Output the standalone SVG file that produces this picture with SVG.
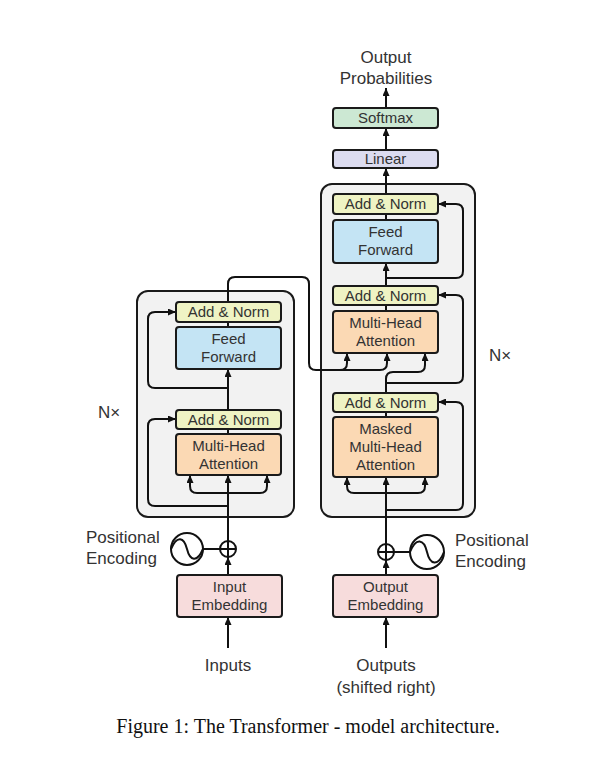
<svg xmlns="http://www.w3.org/2000/svg" width="600" height="769" viewBox="0 0 600 769">
<defs>
<marker id="ah" viewBox="0 0 8 7" refX="8" refY="3.5" markerWidth="8" markerHeight="7" markerUnits="userSpaceOnUse" orient="auto">
<path d="M0,0 L8,3.5 L0,7 z" fill="#111"/>
</marker>
<style>
.frame{fill:#f2f2f2;stroke:#1a1a1a;stroke-width:2}
.box{stroke:#1a1a1a;stroke-width:2}
.an{fill:#eff3c4}
.ff{fill:#c4e4f4}
.mha{fill:#fbd9b4}
.emb{fill:#f7dcdc}
.lin{fill:#dcdcf0}
.sm{fill:#cce8d3}
.t{font-family:"Liberation Sans",Arial,sans-serif;font-size:15px;fill:#333;text-anchor:middle}
.lbl{font-family:"Liberation Sans",Arial,sans-serif;font-size:17px;fill:#333}
.c{fill:none;stroke:#111;stroke-width:2}
.a{fill:none;stroke:#111;stroke-width:2;marker-end:url(#ah)}
.cap{font-family:"Liberation Serif","Times New Roman",serif;font-size:20px;fill:#111;text-anchor:middle}
</style>
</defs>
<rect width="600" height="769" fill="#ffffff"/>

<g id="encoder-frame"><rect class="frame" x="137" y="291" width="157" height="226" rx="11"/></g>
<g id="decoder-frame"><rect class="frame" x="321" y="184" width="154" height="333" rx="11"/></g>

<g id="connectors">
<!-- encoder -->
<path class="a" d="M228,648 V617"/>
<path class="a" d="M228,575 V557"/>
<path class="a" d="M228,541 V475"/>
<path class="a" d="M228,493 H197 Q190,493 190,486 V475"/>
<path class="a" d="M228,493 H260 Q267,493 267,486 V475"/>
<path class="c" d="M228,434 V429"/>
<path class="a" d="M228,410 V369"/>
<path class="c" d="M228,327 V322"/>
<path class="a" d="M228,506 H155 Q148,506 148,499 V426 Q148,419 155,419 H176"/>
<path class="a" d="M228,388 H155 Q148,388 148,381 V319 Q148,312 155,312 H176"/>
<path class="c" d="M203,549 H220"/>
<!-- encoder to decoder -->
<path class="a" d="M228,302 V284 Q228,277 235,277 H302 Q309,277 309,284 V363 Q309,370 316,370 H340 Q347,370 347,363 V353"/>
<path class="a" d="M340,370 H380 Q387,370 387,363 V353"/>
<!-- decoder -->
<path class="a" d="M386,648 V617"/>
<path class="a" d="M386,575 V560"/>
<path class="a" d="M386,544 V477"/>
<path class="a" d="M386,493 H354 Q347,493 347,486 V477"/>
<path class="a" d="M386,493 H418 Q425,493 425,486 V477"/>
<path class="c" d="M386,417 V412"/>
<path class="a" d="M386,510 H456 Q463,510 463,503 V409 Q463,402 456,402 H438"/>
<path class="a" d="M386,393 V379 Q386,372 393,372 H418 Q425,372 425,365 V353"/>
<path class="a" d="M386,383 H456 Q463,383 463,376 V302 Q463,295 456,295 H438"/>
<path class="c" d="M386,311 V305"/>
<path class="a" d="M386,286 V263"/>
<path class="a" d="M386,278 H456 Q463,278 463,271 V211 Q463,204 456,204 H438"/>
<path class="c" d="M386,220 V214"/>
<path class="a" d="M386,194 V168"/>
<path class="a" d="M386,150 V128"/>
<path class="a" d="M386,108 V88"/>
<path class="c" d="M394,552 H410"/>
</g>

<g id="enc-addnorm2"><rect class="box an" x="176" y="302" width="105" height="20" rx="3"/><text class="t" x="228.5" y="317">Add &amp; Norm</text></g>
<g id="enc-ff"><rect class="box ff" x="176" y="327" width="105" height="42" rx="3"/><text class="t" x="228.5" y="344">Feed</text><text class="t" x="228.5" y="362">Forward</text></g>
<g id="enc-addnorm1"><rect class="box an" x="176" y="410" width="105" height="19" rx="3"/><text class="t" x="228.5" y="425">Add &amp; Norm</text></g>
<g id="enc-mha"><rect class="box mha" x="176" y="434" width="105" height="41" rx="3"/><text class="t" x="228.5" y="451">Multi-Head</text><text class="t" x="228.5" y="469">Attention</text></g>
<g id="enc-pe"><circle cx="187" cy="549" r="16" fill="#fff" stroke="#111" stroke-width="2"/><path class="c" d="M171,549 C177,535 184,537 187,549 S197,563 203,549" stroke-width="1.5"/></g>
<g id="enc-add"><circle cx="228" cy="549" r="8" fill="#fff" stroke="#111" stroke-width="2"/><path class="c" d="M220,549 H236 M228,541 V557" stroke-width="1.5"/></g>
<g id="enc-emb"><rect class="box emb" x="177" y="575" width="105" height="42" rx="3"/><text class="t" x="229.5" y="592">Input</text><text class="t" x="229.5" y="610">Embedding</text></g>

<g id="dec-addnorm3"><rect class="box an" x="333" y="194" width="105" height="20" rx="3"/><text class="t" x="385.5" y="209">Add &amp; Norm</text></g>
<g id="dec-ff"><rect class="box ff" x="333" y="220" width="105" height="43" rx="3"/><text class="t" x="385.5" y="237">Feed</text><text class="t" x="385.5" y="255">Forward</text></g>
<g id="dec-addnorm2"><rect class="box an" x="333" y="286" width="105" height="19" rx="3"/><text class="t" x="385.5" y="301">Add &amp; Norm</text></g>
<g id="dec-mha"><rect class="box mha" x="333" y="311" width="105" height="42" rx="3"/><text class="t" x="385.5" y="328">Multi-Head</text><text class="t" x="385.5" y="346">Attention</text></g>
<g id="dec-addnorm1"><rect class="box an" x="333" y="393" width="105" height="19" rx="3"/><text class="t" x="385.5" y="408">Add &amp; Norm</text></g>
<g id="dec-mmha"><rect class="box mha" x="333" y="417" width="105" height="60" rx="3"/><text class="t" x="385.5" y="434">Masked</text><text class="t" x="385.5" y="452">Multi-Head</text><text class="t" x="385.5" y="470">Attention</text></g>
<g id="dec-add"><circle cx="386" cy="552" r="8" fill="#fff" stroke="#111" stroke-width="2"/><path class="c" d="M378,552 H394 M386,544 V560" stroke-width="1.5"/></g>
<g id="dec-pe"><circle cx="427" cy="552" r="17" fill="#fff" stroke="#111" stroke-width="2"/><path class="c" d="M410,552 C416,537 424,539 427,552 S438,567 444,552" stroke-width="1.5"/></g>
<g id="dec-emb"><rect class="box emb" x="333" y="575" width="105" height="42" rx="3"/><text class="t" x="385.5" y="592">Output</text><text class="t" x="385.5" y="610">Embedding</text></g>

<g id="linear"><rect class="box lin" x="333" y="150" width="105" height="18" rx="3"/><text class="t" x="385.5" y="164">Linear</text></g>
<g id="softmax"><rect class="box sm" x="333" y="108" width="105" height="20" rx="3"/><text class="t" x="385.5" y="123">Softmax</text></g>

<g id="labels">
<text class="lbl" x="386" y="63" text-anchor="middle">Output</text>
<text class="lbl" x="386" y="84" text-anchor="middle">Probabilities</text>
<text class="lbl" x="86" y="543">Positional</text>
<text class="lbl" x="86" y="564">Encoding</text>
<text class="lbl" x="455" y="546">Positional</text>
<text class="lbl" x="455" y="567">Encoding</text>
<text class="lbl" x="98" y="418">N×</text>
<text class="lbl" x="489" y="361">N×</text>
<text class="lbl" x="228" y="671" text-anchor="middle">Inputs</text>
<text class="lbl" x="386" y="671" text-anchor="middle">Outputs</text>
<text class="lbl" x="386" y="693" text-anchor="middle">(shifted right)</text>
</g>
<text class="cap" x="308" y="733">Figure 1: The Transformer - model architecture.</text>
</svg>
